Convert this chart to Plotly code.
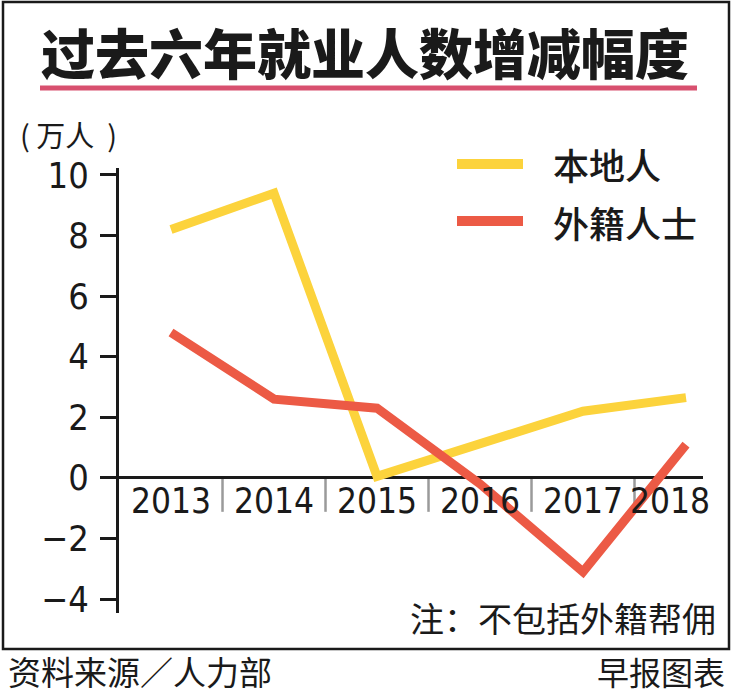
import plotly.graph_objects as go

years = ["2013", "2014", "2015", "2016", "2017", "2018"]
local = [8.2, 9.4, 0.05, 1.15, 2.2, 2.65]
foreign = [4.8, 2.6, 2.3, -0.2, -3.1, 1.1]
series_names = ["本地人", "外籍人士"]
y_ticks = [-4, -2, 0, 2, 4, 6, 8, 10]

YELLOW = "#FCD33C"
RED = "#EC5A45"
PINK = "#D8506F"
CJK = "Noto Sans CJK SC"
NUM = "DejaVu Sans Condensed, Liberation Sans Narrow, Liberation Sans, Arial"

W, H = 733, 695
PL, PR, PT, PB = 119, 703, 168, 613


def px(x):
    return (x - PL) / (PR - PL)


def py(y):
    return (PB - y) / (PB - PT)


xs = list(range(len(years)))
fig = go.Figure()
fig.add_trace(go.Scatter(x=xs, y=local, mode="lines", name=series_names[0],
                         line=dict(color=YELLOW, width=9)))
fig.add_trace(go.Scatter(x=xs, y=foreign, mode="lines", name=series_names[1],
                         line=dict(color=RED, width=9)))

shapes = []
shapes.append(dict(type="rect", xref="paper", yref="paper", x0=px(3), x1=px(729),
                   y0=py(649), y1=py(2), line=dict(color="#1a1a1a", width=2.5)))
shapes.append(dict(type="line", xref="paper", yref="paper", x0=px(40), x1=px(697),
                   y0=py(88), y1=py(88), line=dict(color=PINK, width=5)))
for i in range(len(years) - 1):
    shapes.append(dict(type="line", xref="x", yref="y", x0=i + 0.5, x1=i + 0.5,
                       y0=0, y1=-1.12, line=dict(color="#9a9a9a", width=2.5),
                       layer="below"))
for color, yy in [(YELLOW, 164), (RED, 221)]:
    shapes.append(dict(type="line", xref="paper", yref="paper", x0=px(457), x1=px(523),
                       y0=py(yy), y1=py(yy), line=dict(color=color, width=10)))

ann = []
ann.append(dict(text="过去六年就业人数增减幅度", xref="paper", yref="paper",
                x=px(365), y=py(52), xanchor="center", yanchor="middle", showarrow=False,
                font=dict(family=CJK, size=54, color="#1a1a1a", weight=900)))
ann.append(dict(text="(\u00a0万人\u00a0\u00a0)", xref="paper", yref="paper", x=px(18), y=py(134),
                xanchor="left", yanchor="middle", showarrow=False,
                font=dict(family=CJK, size=29, color="#1a1a1a")))
for name, yy in zip(series_names, [164, 222]):
    ann.append(dict(text=name, xref="paper", yref="paper", x=px(551), y=py(yy),
                    xanchor="left", yanchor="middle", showarrow=False,
                    font=dict(family=CJK, size=36, color="#1a1a1a", weight=500)))
ann.append(dict(text="注：不包括外籍帮佣", xref="paper", yref="paper", x=px(718), y=py(617),
                xanchor="right", yanchor="middle", showarrow=False,
                font=dict(family=CJK, size=34, color="#1a1a1a")))
ann.append(dict(text="资料来源／人力部", xref="paper", yref="paper", x=px(6), y=py(671),
                xanchor="left", yanchor="middle", showarrow=False,
                font=dict(family=CJK, size=33, color="#1a1a1a")))
ann.append(dict(text="早报图表", xref="paper", yref="paper", x=px(727), y=py(671),
                xanchor="right", yanchor="middle", showarrow=False,
                font=dict(family=CJK, size=32, color="#1a1a1a")))
for i, yr in enumerate(years):
    ann.append(dict(text=yr, xref="x", yref="y", x=i, y=0, xanchor="center",
                    yanchor="top", yshift=-1, xshift=(-16 if i == len(years) - 1 else 0),
                    showarrow=False,
                    font=dict(family=NUM, size=35, color="#1a1a1a")))

fig.update_layout(
    width=W, height=H,
    margin=dict(l=PL, r=W - PR, t=PT, b=H - PB, pad=0),
    paper_bgcolor="white", plot_bgcolor="white",
    showlegend=False,
    shapes=shapes, annotations=ann,
    xaxis=dict(range=[-0.505, 5.165], showgrid=False, zeroline=False, showline=False,
               showticklabels=False, ticks=""),
    yaxis=dict(range=[-4.46, 10.23], showgrid=False, zeroline=True, zerolinecolor="#1a1a1a",
               zerolinewidth=3, showline=True, linecolor="#1a1a1a", linewidth=3,
               ticks="outside", ticklen=16, tickwidth=3, tickcolor="#1a1a1a",
               tickvals=y_ticks, ticklabelstandoff=4,
               tickfont=dict(family=NUM, size=36, color="#1a1a1a")),
)

fig.write_html("out.html", config={"displayModeBar": False},
               post_script="document.body.style.margin='0px';document.body.style.overflow='hidden';")
